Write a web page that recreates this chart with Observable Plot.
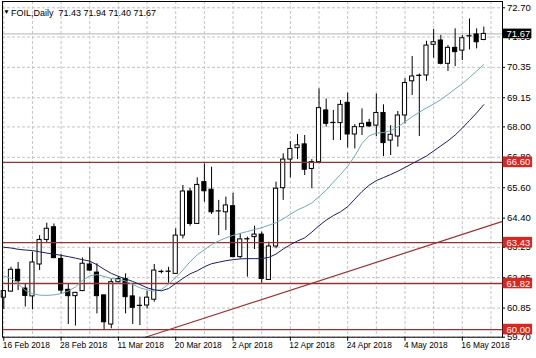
<!DOCTYPE html>
<html><head><meta charset="utf-8">
<script src="https://cdn.jsdelivr.net/npm/d3@7"></script>
<script src="https://cdn.jsdelivr.net/npm/@observablehq/plot@0.6"></script>
<style>
html,body{margin:0;padding:0;background:#fff;}
#chart svg{display:block;}
</style></head><body><div id="chart"></div>
<script>
const symbol = "FOIL";
const period = "Daily";
const opens  = [61.26,61.50,62.36,61.62,61.31,62.57,63.54,64.04,62.79,61.57,61.32,61.52,62.57,62.25,61.35,60.20,61.87,62.00,61.31,60.93,60.95,61.18,62.27,62.28,62.20,63.71,65.45,64.17,65.82,65.52,64.66,64.63,64.87,62.86,63.56,63.65,63.75,61.96,63.28,65.58,66.71,67.16,67.31,66.34,66.61,68.65,68.15,68.15,68.95,67.70,67.99,68.16,68.05,68.55,67.46,67.62,68.45,69.80,70.01,70.03,71.24,71.41,70.49,71.12,71.01,71.57,71.65,71.43];
const highs  = [61.55,62.46,62.65,61.81,63.06,63.71,64.20,64.17,62.96,61.81,61.47,62.83,63.23,62.60,61.37,62.00,62.10,62.20,61.81,61.28,61.52,62.57,62.35,62.46,63.98,65.69,65.58,65.99,66.54,66.41,65.10,65.23,65.38,63.78,63.65,64.08,63.85,63.45,65.82,66.94,67.42,67.70,67.66,66.71,69.50,69.10,68.65,69.04,69.33,68.09,68.71,68.30,69.30,68.87,68.05,68.61,69.90,70.78,70.09,71.38,71.84,71.61,71.21,71.87,71.61,72.26,71.87,71.94];
const lows   = [60.79,61.48,61.54,60.89,60.78,62.33,63.41,62.80,61.41,60.20,60.14,61.50,62.30,60.62,59.96,60.03,61.85,60.62,60.20,60.16,60.82,61.08,62.20,61.83,62.18,63.58,64.08,64.15,65.03,64.54,63.71,63.91,62.84,62.79,62.07,63.16,61.83,61.94,63.19,65.10,65.99,66.71,66.08,65.56,66.54,67.99,67.46,67.46,67.17,67.13,67.66,67.98,67.62,66.83,66.87,67.20,68.12,69.24,67.62,69.80,70.71,70.45,70.19,70.38,70.62,71.04,71.08,71.40];
const closes = [61.52,62.36,61.91,61.33,62.65,63.54,63.98,62.82,61.54,61.32,61.45,62.60,62.33,61.32,60.29,61.87,62.00,61.28,60.86,60.94,61.26,62.33,62.28,62.29,63.71,65.45,64.17,65.71,65.46,64.63,64.67,64.90,62.86,63.56,63.57,63.75,62.00,63.28,65.56,66.71,67.13,67.27,66.31,66.61,68.74,68.12,68.16,68.87,67.70,67.99,68.12,68.02,68.55,67.36,67.69,68.45,69.73,69.99,70.02,71.21,71.34,70.49,71.12,70.95,71.50,71.58,71.34,71.67];
const maFast = [62.12,62.02,61.80,61.55,61.42,61.36,61.35,61.37,61.42,61.52,61.68,61.95,62.12,62.17,62.10,62.02,61.98,61.92,61.78,61.65,61.57,61.52,61.58,61.80,62.05,62.35,62.68,62.95,63.15,63.35,63.50,63.62,63.72,63.80,63.87,63.95,64.02,64.12,64.22,64.37,64.55,64.72,64.85,65.00,65.25,65.50,65.82,66.12,66.45,66.85,67.35,67.65,67.75,67.78,67.85,68.00,68.20,68.40,68.58,68.75,68.90,69.08,69.28,69.50,69.70,69.95,70.20,70.46];
const maSlow = [63.25,63.22,63.17,63.14,63.12,63.07,63.02,62.98,62.93,62.88,62.82,62.76,62.70,62.56,62.38,62.22,62.10,62.00,61.90,61.78,61.65,61.57,61.53,61.62,61.82,62.02,62.20,62.32,62.48,62.60,62.66,62.72,62.76,62.79,62.80,62.80,62.80,62.85,62.98,63.18,63.35,63.50,63.62,63.85,64.10,64.32,64.50,64.65,64.85,65.15,65.45,65.70,65.88,66.00,66.12,66.25,66.40,66.55,66.70,66.85,67.05,67.25,67.45,67.68,67.95,68.25,68.55,68.88];
const dateLabels = ["16 Feb 2018","28 Feb 2018","11 Mar 2018","20 Mar 2018","2 Apr 2018","12 Apr 2018","24 Apr 2018","4 May 2018","16 May 2018"];
const barsPerDateLabel = 8;
const barsPerGrid = 4;
const yTickValues = [72.70,71.55,70.35,69.15,68.00,66.80,65.60,64.40,63.25,62.05,60.85,59.70];
const levels = [66.60,63.43,61.82,60.00];
const bid = 71.67;
const trendBars = [19.78, 69.61];
const trendPrices = [59.70, 64.27];

const candles = opens.map((o,i)=>({i, open:o, high:highs[i], low:lows[i], close:closes[i]}));
const bull = candles.filter(d=>d.close>=d.open);
const bear = candles.filter(d=>d.close<d.open);
const fast = maFast.map((v,i)=>({i, v}));
const slow = maSlow.map((v,i)=>({i, v}));
const trend = trendBars.map((b,k)=>({i:b, v:trendPrices[k]}));
const gridBars = d3.range(0, opens.length + 2, barsPerGrid);
const last = candles[candles.length-1];
const title = `${symbol},${period}\u00a0\u00a0${[last.open,last.high,last.low,last.close].map(v=>v.toFixed(2)).join(" ")}`;

const xDomain = [-0.18, 69.61];
const yDomain = [59.70, 72.949];
const font = "'Liberation Sans', Arial, sans-serif";
const gridColor = "#c4c4c4";
const levelColor = "#963434";
const labelRed = "#d9261f";
const hw = 0.29;

const chart = Plot.plot({
  width: 536, height: 358,
  marginLeft: 2, marginRight: 34, marginTop: 1, marginBottom: 21.3,
  style: {fontFamily: font, background: "#fff", overflow: "visible"},
  x: {domain: xDomain, axis: null},
  y: {domain: yDomain, axis: null},
  marks: [
    Plot.ruleY(yTickValues, {stroke: gridColor, strokeDasharray: "3,2"}),
    Plot.ruleX(gridBars, {stroke: gridColor, strokeDasharray: "3,2"}),
    Plot.ruleY([bid], {stroke: "#b4b4b4", strokeWidth: 1}),
    Plot.ruleX(candles, {x: "i", y1: "low", y2: "high", stroke: "#000", strokeWidth: 1}),
    Plot.rect(bull, {x1: d=>d.i-hw, x2: d=>d.i+hw, y1: "open", y2: "close", fill: "#fff", stroke: "#000", strokeWidth: 1}),
    Plot.rect(bear, {x1: d=>d.i-hw, x2: d=>d.i+hw, y1: "open", y2: "close", fill: "#000", stroke: "#000", strokeWidth: 1}),
    Plot.ruleY(levels, {stroke: levelColor, strokeWidth: 1.3}),
    Plot.line(trend, {x: "i", y: "v", stroke: levelColor, strokeWidth: 1.2}),
    Plot.line(fast, {x: "i", y: "v", stroke: "#72aaae", strokeWidth: 1}),
    Plot.line(slow, {x: "i", y: "v", stroke: "#1b1f5c", strokeWidth: 1}),
    Plot.frame({stroke: "#000", strokeWidth: 1}),
    // right axis ticks and labels
    Plot.ruleY(yTickValues, {x1: () => xDomain[1], x2: () => xDomain[1] + 0.42, stroke: "#000"}),
    Plot.text(yTickValues, {y: d=>d, frameAnchor: "right", dx: 4.5, textAnchor: "start", text: d=>d.toFixed(2), fontSize: 9.5, fill: "#000"}),
    Plot.rect(levels, {x1: () => xDomain[1] + 0.08, x2: () => xDomain[1] + 4.2, y1: d=>d-0.21, y2: d=>d+0.21, fill: labelRed}),
    Plot.text(levels, {y: d=>d, frameAnchor: "right", dx: 4, textAnchor: "start", text: d=>d.toFixed(2), fontSize: 9.5, fill: "#fff"}),
    Plot.rect([bid], {x1: () => xDomain[1] + 0.08, x2: () => xDomain[1] + 4.1, y1: d=>d-0.19, y2: d=>d+0.19, fill: "#000"}),
    Plot.text([bid], {y: d=>d, frameAnchor: "right", dx: 4, textAnchor: "start", text: d=>d.toFixed(2), fontSize: 9.5, fill: "#fff"}),
    // bottom axis ticks and labels
    Plot.ruleX(dateLabels, {x: (d,k)=>k*barsPerDateLabel, y1: () => yDomain[0], y2: () => yDomain[0] - 0.16, stroke: "#000"}),
    Plot.text(dateLabels, {x: (d,k)=>k*barsPerDateLabel, frameAnchor: "bottom", dy: 10.5, dx: -1, textAnchor: "start", fontSize: 8.4, fill: "#000"}),
    // title
    Plot.text(["\u25BC"], {frameAnchor: "top-left", dx: 4, dy: 8, textAnchor: "middle", fontSize: 6.5, fill: "#000"}),
    Plot.text([title], {frameAnchor: "top-left", dx: 8.5, dy: 8, textAnchor: "start", fontSize: 9, fill: "#000"})
  ]
});
document.getElementById("chart").appendChild(chart);
</script></body></html>
